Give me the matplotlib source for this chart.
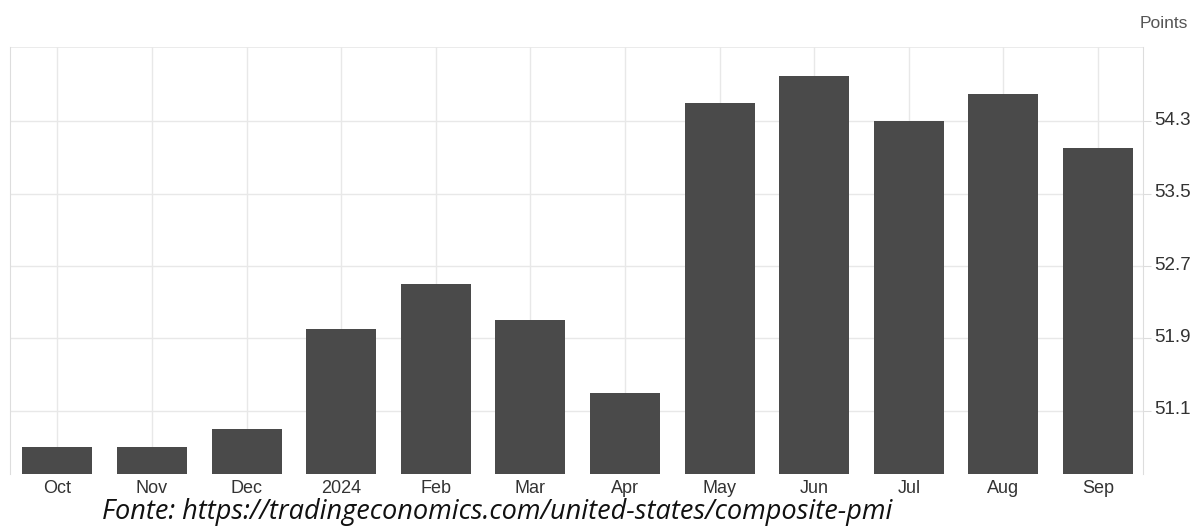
import numpy as np
import matplotlib
matplotlib.use('Agg')
import matplotlib.pyplot as plt
import matplotlib.transforms as mtransforms

# US composite PMI, Oct 2023 - Sep 2024
months = ['Oct', 'Nov', 'Dec', '2024', 'Feb', 'Mar', 'Apr', 'May', 'Jun', 'Jul', 'Aug', 'Sep']
pmi = [50.7, 50.7, 50.9, 52.0, 52.5, 52.1, 51.3, 54.5, 54.8, 54.3, 54.6, 54.0]
yticks = [51.1, 51.9, 52.7, 53.5, 54.3]

plt.rcParams['font.family'] = ['Liberation Sans', 'DejaVu Sans']

fig = plt.figure(figsize=(12.02, 5.31), dpi=100)
ax = fig.add_axes([0.0083, 0.107, 0.943, 0.8045])

x = np.arange(len(months))
ax.bar(x, pmi, width=0.74, color='#4a4a4a', zorder=3)

ax.set_xlim(-0.5, 11.48)
ax.set_ylim(50.40, 55.12)
ax.set_xticks(x)
ax.set_xticklabels(months, fontsize=13, color='#333333')
ax.set_yticks(yticks)
ax.set_yticklabels(['%.1f' % v for v in yticks], fontsize=13.5, color='#333333')
ax.yaxis.tick_right()
ax.tick_params(axis='y', length=6, color='#dddddd', pad=2)
ax.tick_params(axis='x', length=0, pad=4)
# labels sit a little above their gridline
off = mtransforms.ScaledTranslation(0, 3 / 100, fig.dpi_scale_trans)
for lab in ax.get_yticklabels():
    lab.set_transform(lab.get_transform() + off)

ax.grid(True, color='#e8e8e8', linewidth=1, zorder=0)
for s in ['top', 'bottom']:
    ax.spines[s].set_visible(False)
ax.spines['left'].set_color('#dddddd')
ax.spines['right'].set_color('#dddddd')
ax.axhline(55.12, color='#e8e8e8', linewidth=1.2, zorder=1)

fig.text(0.988, 0.955, 'Points', ha='right', va='center', fontsize=12.5, color='#555555')
fig.text(0.414, 0.036, 'Fonte: https://tradingeconomics.com/united-states/composite-pmi',
         ha='center', va='center', fontsize=19.5, style='italic', color='#111111',
         family=['Open Sans', 'DejaVu Sans'])

fig.savefig('out.png', dpi=100)
